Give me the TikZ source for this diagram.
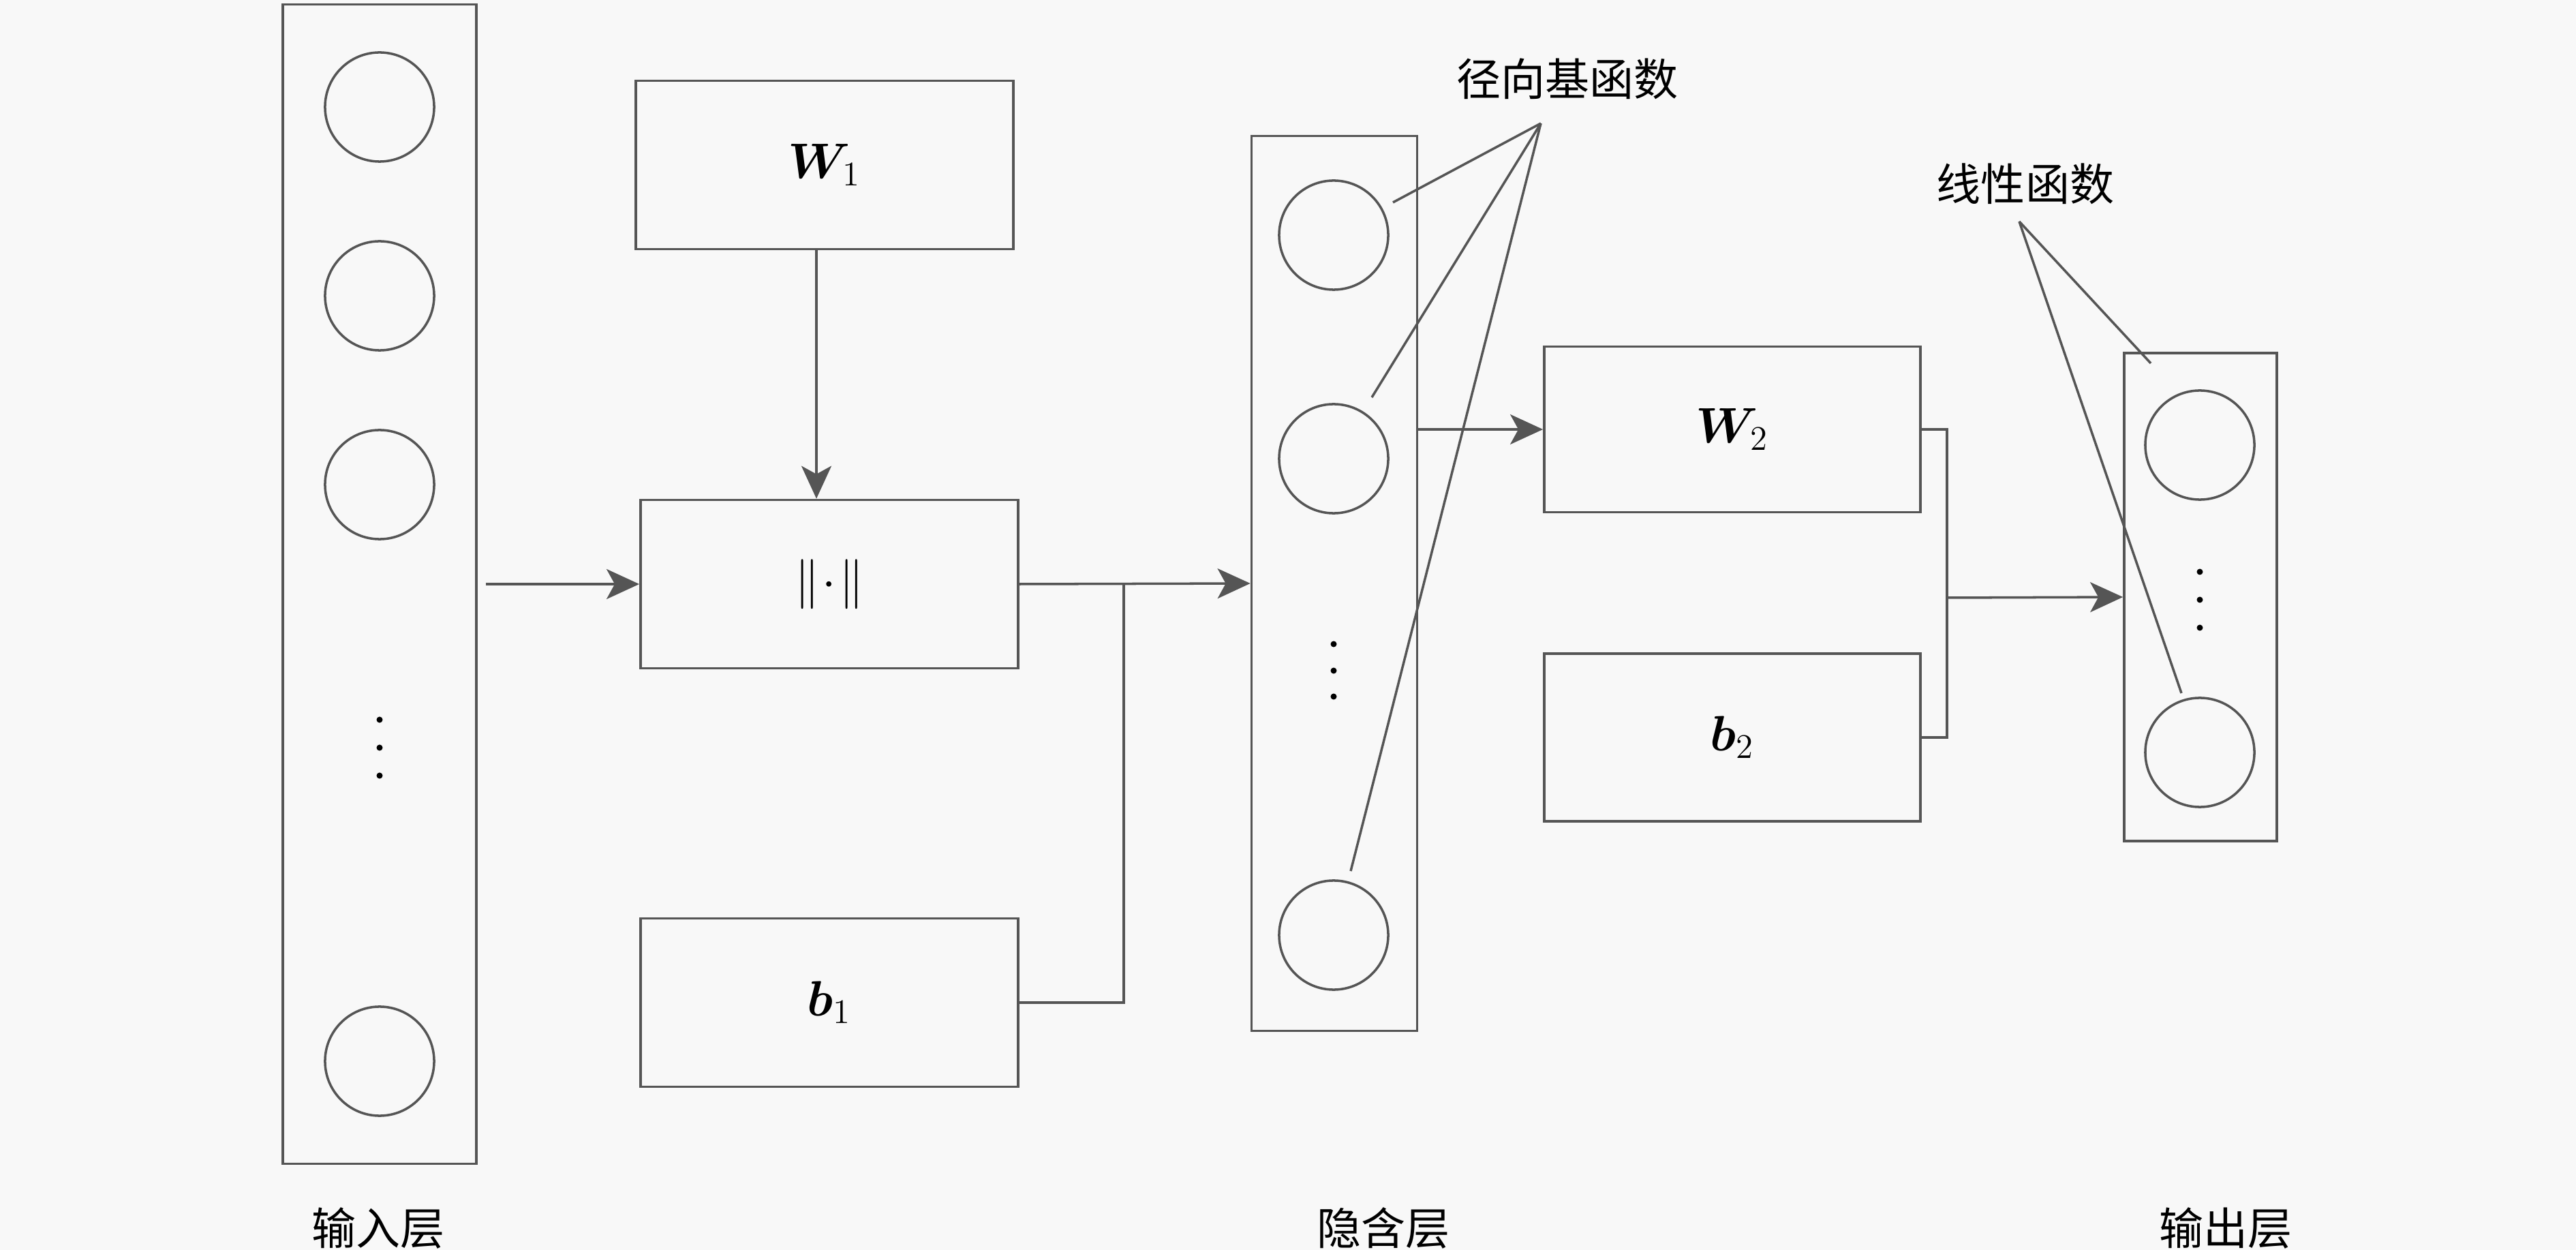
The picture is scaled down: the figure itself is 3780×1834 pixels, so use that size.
\documentclass[tikz,border=0pt]{standalone}
\usepackage{fontspec}
\newfontfamily\cjk{Noto Sans CJK SC}
\usepackage{amsmath}
\usepackage{bm}
\usetikzlibrary{calc}
\usetikzlibrary{arrows.meta}
\usepackage{xcolor}
\definecolor{linegray}{HTML}{555555}
\definecolor{paper}{HTML}{F8F8F8}
\tikzset{
  box/.style={draw=linegray, line width=1pt, minimum width=5.54cm, minimum height=2.47cm, inner sep=0pt, font=\fontsize{20}{24}\selectfont},
  layer/.style={draw=linegray, line width=1pt, inner sep=0pt},
  neuron/.style={circle, draw=linegray, line width=1pt, minimum size=1.6cm, inner sep=0pt},
  wire/.style={linegray, line width=1pt},
  flow/.style={wire, -{Stealth[length=4.8mm, width=4.4mm, inset=1.2mm]}},
  tag/.style={font=\cjk\fontsize{18.5}{22}\selectfont, inner sep=0pt}
}

\begin{document}
\begin{tikzpicture}[x=0.01cm, y=-0.01cm]
\fill[paper] (0,0) rectangle (3780,1834);
\useasboundingbox (0,0) rectangle (3780,1834);

% layers
\node[layer, minimum width=2.84cm, minimum height=17cm] (inlayer) at (557,857) {};
\node[layer, minimum width=2.43cm, minimum height=13.12cm] (hidlayer) at (1958,856) {};
\node[layer, minimum width=2.24cm, minimum height=7.16cm] (outlayer) at (3229,876) {};

% neurons
\foreach \y [count=\i] in {157,434,711,1557}
  \node[neuron] (in\i) at (557,\y) {};
\foreach \y [count=\i] in {345,673,1372}
  \node[neuron] (h\i) at (1957,\y) {};
\foreach \y [count=\i] in {653,1104}
  \node[neuron] (o\i) at (3228,\y) {};

% dots
\foreach \y in {1056,1097,1138}
  \fill (557,\y) circle (0.045cm);
\foreach \y in {945,984,1022}
  \fill (1957,\y) circle (0.045cm);
\foreach \y in {839,880,921}
  \fill (3228,\y) circle (0.045cm);

% boxes
\node[box] (W1) at (1210,242) {$\bm{W}_{1}$};
\node[box] (norm) at (1217,857) {$\|\!\cdot\!\|$};
\node[box] (b1) at (1217,1471) {$\bm{b}_{1}$};
\node[box, minimum width=5.52cm, minimum height=2.43cm] (W2) at (2542,630) {$\bm{W}_{2}$};
\node[box, minimum width=5.52cm, minimum height=2.46cm] (b2) at (2542,1082) {$\bm{b}_{2}$};

% connectors
\coordinate (join) at (1649,857);
\coordinate (bus) at (2857,877);
\draw[flow, shorten <=0.12cm] (inlayer.east) -- (norm.west);
\draw[flow] (W1.south -| 1198,0) -- (norm.north -| 1198,0);
\draw[flow] (norm.east) -- (hidlayer.west);
\draw[wire] (b1.east) -| (join);
\draw[flow] (hidlayer.east |- W2.west) -- (W2.west);
\draw[wire] (W2.east) -| (bus) |- (b2.east);
\draw[flow] (bus) -- (outlayer.west);

% labels
\node[tag] (inname) at (555,1802) {输入层};
\node[tag] (hidname) at (2030,1802) {隐含层};
\node[tag] (outname) at (3266,1802) {输出层};
\node[tag] (rbf) at (2300,116) {径向基函数};
\node[tag] (lin) at (2972,270) {线性函数};

% pointers
\coordinate (rbftip) at (2261,181);
\coordinate (lintip) at (2963,325);
\draw[wire] (rbftip) -- ($(h1)+(87,-48)$);
\draw[wire] (rbftip) -- ($(h2)+(56,-90)$);
\draw[wire] (rbftip) -- ($(h3)+(25,-94)$);
\draw[wire] (lintip) -- ($(o1)+(-72,-120)$);
\draw[wire] (lintip) -- ($(o2)+(-27,-87)$);
\end{tikzpicture}
\end{document}
